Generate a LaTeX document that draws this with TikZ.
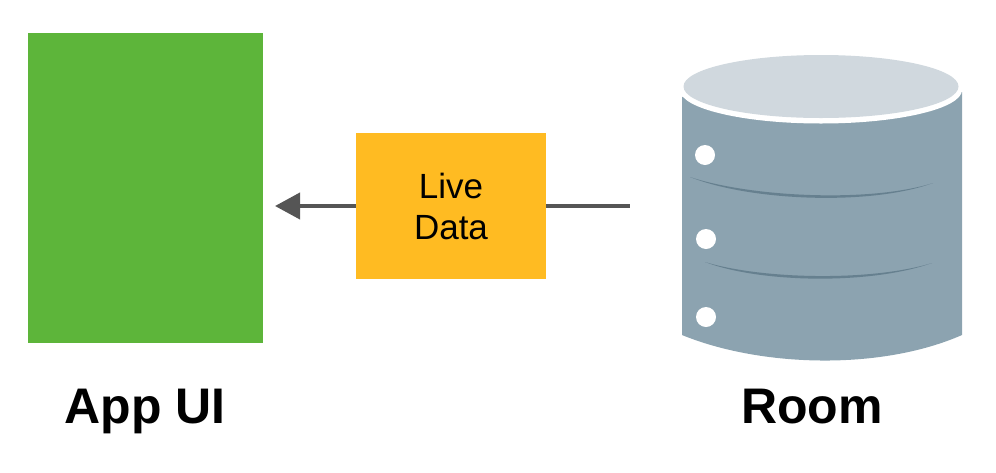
\documentclass[tikz,border=0pt]{standalone}
\usepackage{fontspec}
\setmainfont{Liberation Sans}
\definecolor{UiGreen}{RGB}{93, 181, 58}
\definecolor{LiveAmber}{RGB}{255, 187, 34}
\definecolor{DbBody}{RGB}{140, 163, 176}
\definecolor{DbTop}{RGB}{208, 216, 222}
\definecolor{DbSlot}{RGB}{102, 128, 143}
\definecolor{ArrowGray}{RGB}{85, 85, 85}
\usetikzlibrary{arrows.meta, positioning}

\begin{document}
\begin{tikzpicture}[x=1pt, y=-1pt, every node/.style={inner sep=0pt, outer sep=0pt}]
            \useasboundingbox (0,0) rectangle (996,472);
            % boxes
            \node[rectangle, fill=UiGreen, minimum width=235pt, minimum height=310pt] (appui) at (145.5,188) {};
            \node[rectangle, fill=LiveAmber, minimum width=190pt, minimum height=146pt, align=center, font=\fontsize{35}{41}\selectfont] (live) at (451,206) {Live\\Data};

            % database
            \fill[DbBody] (682,97) -- (682,335) .. controls (760,367) and (880,371) .. (962,335) -- (962,92) -- cycle;
            \fill[white] (821,90) ellipse [x radius=141, y radius=33.5];
            \fill[DbTop] (821,86.5) ellipse [x radius=137.5, y radius=31.5];
            \fill[DbSlot] (690,177) .. controls (750,201) and (870,206) .. (933,183) .. controls (870,203) and (750,197) .. cycle;
            \fill[DbSlot] (705,262) .. controls (760,283) and (870,285) .. (932,263) .. controls (870,282) and (760,279) .. cycle;
            \foreach \hx/\hy in {705/155, 706/239, 706/317}
                \fill[white] (\hx,\hy) circle [radius=10];

            \coordinate (uitip) at (275,206);
            \coordinate (roomend) at (630,206);

            \draw[ArrowGray, line width=4pt] (live.east) -- (roomend);
            \draw[-{Triangle[length=25pt, width=26pt]}, ArrowGray, line width=4pt] (live.west) -- (uitip);

            % labels
            \node[anchor=base, font=\fontsize{50}{60}\selectfont\bfseries] (applabel) at (145,423) {App UI};
            \node[anchor=base, font=\fontsize{50}{60}\selectfont\bfseries] (roomlabel) at (812,423) {Room};
        \end{tikzpicture}
\end{document}
